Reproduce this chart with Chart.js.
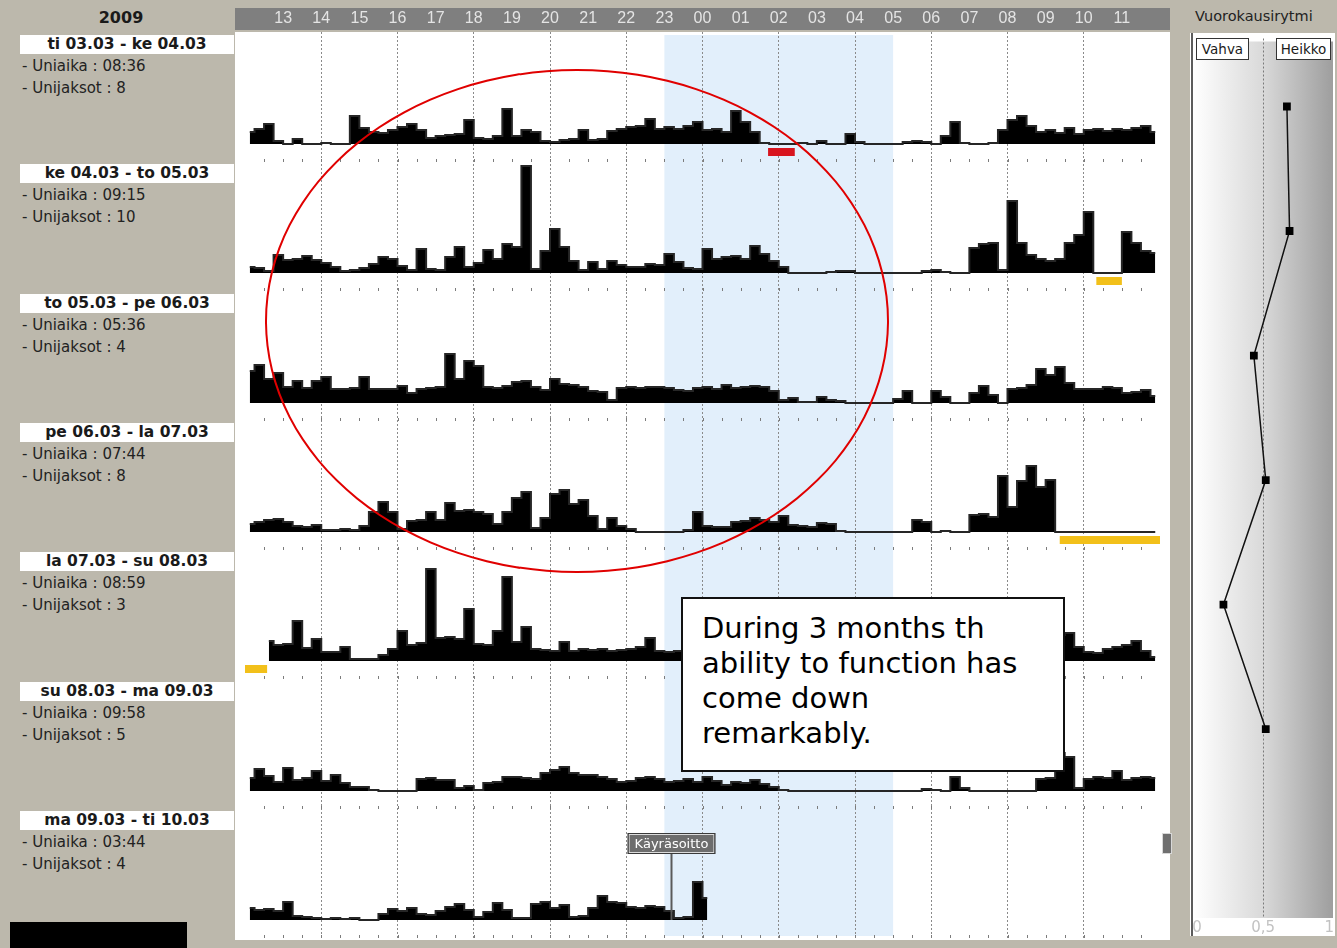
<!DOCTYPE html>
<html lang="fi">
<head>
<meta charset="utf-8">
<title>Aktiivisuus 2009</title>
<script src="https://cdn.jsdelivr.net/npm/chart.js@4.4.1/dist/chart.umd.min.js"></script>
<style>
  html, body { margin: 0; padding: 0; }
  body { width: 1337px; height: 948px; background: #bcb8ac; position: relative; overflow: hidden;
         font-family: "DejaVu Sans", Verdana, sans-serif; color: #1a1a1a; }
  .abs, canvas { position: absolute; }
  #year { left: 8px; top: 8px; width: 226px; text-align: center; font-weight: bold; font-size: 16px; }
  #header { left: 235px; top: 8px; width: 935px; height: 22px; background: #7f7f7f; }
  .title { left: 20px; width: 214px; height: 19px; background: #fff; text-align: center;
           font-weight: bold; font-size: 15.5px; line-height: 19px; white-space: nowrap; }
  .info { left: 22px; font-size: 15px; line-height: 20px; white-space: nowrap; color: #222; }
  #rhythmTitle { left: 1195px; top: 8px; font-size: 14.5px; color: #222; }
  .tag { top: 38px; height: 20px; background: #fff; border: 1px solid #333; font-size: 13.5px;
         line-height: 20px; text-align: center; }
</style>
</head>
<body>
<div id="year" class="abs">2009</div>
<div id="header" class="abs"></div>
<div id="rhythmTitle" class="abs">Vuorokausirytmi</div>
<script>
// vuorokaudet
const rowTitles = ['ti 03.03 - ke 04.03', 'ke 04.03 - to 05.03', 'to 05.03 - pe 06.03', 'pe 06.03 - la 07.03',
                   'la 07.03 - su 08.03', 'su 08.03 - ma 09.03', 'ma 09.03 - ti 10.03'];
const sleepTimes = ['08:36', '09:15', '05:36', '07:44', '08:59', '09:58', '03:44'];
const sleepCounts = [8, 10, 4, 8, 3, 5, 4];
const hourLabels = ['13', '14', '15', '16', '17', '18', '19', '20', '21', '22', '23', '00',
                    '01', '02', '03', '04', '05', '06', '07', '08', '09', '10', '11'];

// aktiivisuus 15 min välein klo 12:00 -> 12:00
const act1 = [12, 15, 20, 3, 0, 5, 0, 0, 1, 0, 0, 28, 16, 12, 11, 14, 17, 20, 14, 6,
              8, 9, 10, 24, 6, 5, 8, 35, 8, 14, 12, 3, 2, 4, 5, 14, 4, 5, 13, 15,
              17, 18, 25, 15, 17, 15, 18, 22, 14, 15, 12, 33, 22, 12, 1, 0, 0, 0, 1, 0,
              3, 0, 0, 10, 2, 0, 0, 0, 0, 2, 3, 2, 0, 8, 22, 1, 0, 0, 1, 14,
              24, 28, 18, 12, 14, 11, 16, 10, 14, 15, 13, 15, 14, 16, 18, 12];
const act2 = [6, 5, 2, 18, 13, 14, 17, 13, 10, 6, 2, 3, 5, 9, 16, 14, 7, 3, 24, 4,
              3, 16, 26, 6, 10, 23, 14, 29, 26, 107, 4, 22, 44, 26, 12, 3, 11, 4, 12, 8,
              6, 6, 9, 8, 19, 11, 5, 4, 24, 14, 16, 17, 14, 27, 19, 12, 6, 0, 0, 0,
              0, 1, 2, 2, 0, 0, 0, 0, 0, 0, 0, 2, 3, 1, 0, 0, 25, 29, 30, 3,
              72, 30, 18, 14, 12, 14, 30, 38, 61, 0, 0, 0, 41, 30, 22, 20];
const act3 = [32, 38, 24, 30, 16, 22, 15, 22, 26, 14, 14, 15, 26, 14, 14, 14, 17, 10, 14, 15,
              16, 49, 24, 42, 37, 16, 15, 17, 21, 22, 16, 13, 24, 19, 18, 16, 12, 11, 3, 15,
              16, 15, 16, 16, 15, 13, 12, 15, 16, 14, 18, 15, 16, 17, 16, 12, 3, 5, 1, 1,
              6, 3, 2, 0, 0, 0, 0, 0, 4, 12, 0, 0, 12, 6, 0, 0, 10, 17, 8, 0,
              14, 15, 18, 34, 28, 36, 20, 14, 14, 14, 16, 15, 10, 11, 13, 7];
const act4 = [8, 10, 12, 13, 10, 6, 5, 7, 2, 2, 3, 2, 6, 20, 30, 20, 3, 11, 12, 20,
              12, 29, 21, 22, 20, 18, 8, 20, 34, 40, 4, 14, 38, 42, 28, 32, 16, 3, 14, 6,
              3, 0, 0, 0, 0, 0, 2, 20, 6, 5, 5, 10, 11, 14, 12, 10, 16, 7, 6, 5,
              9, 8, 1, 0, 0, 0, 0, 0, 0, 0, 12, 10, 0, 1, 0, 0, 17, 18, 15, 56,
              25, 51, 66, 45, 52, 0, 0, 0, 0, 0, 0, 0, 0, 0, 0, 0];
const act5 = [null, null, 20, 16, 17, 40, 13, 22, 9, 9, 14, 2, 2, 2, 6, 12, 30, 16, 18, 92,
              23, 24, 22, 52, 17, 16, 30, 84, 19, 34, 12, 11, 10, 19, 10, 12, 11, 12, 10, 11,
              12, 14, 23, 10, 9, 10, 9, 11, 8, 12, 10, 9, 7, 10, 8, 6, 3, 0, 0, 1,
              0, 0, 2, 0, 0, 0, 0, 1, 0, 3, 0, 6, 10, 8, 12, 14, 10, 9, 12, 15,
              11, 13, 10, 12, 14, 26, 28, 14, 9, 8, 12, 14, 16, 20, 10, 4];
const act6 = [13, 22, 15, 9, 23, 11, 13, 20, 10, 16, 8, 4, 4, 1, 0, 0, 0, 0, 12, 13,
              11, 11, 3, 5, 1, 8, 9, 14, 14, 13, 12, 18, 21, 24, 18, 16, 16, 14, 12, 9,
              10, 13, 14, 12, 9, 10, 12, 9, 14, 10, 6, 9, 8, 11, 7, 4, 1, 0, 0, 0,
              0, 0, 0, 0, 0, 0, 0, 0, 0, 0, 0, 2, 1, 0, 14, 3, 0, 0, 0, 0,
              0, 0, 0, 12, 13, 38, 34, 3, 12, 14, 13, 20, 11, 13, 14, 13];
const act7 = [12, 10, 11, 9, 18, 4, 3, 2, 1, 2, 1, 2, 0, 0, 6, 11, 9, 12, 6, 5,
              9, 13, 16, 10, 3, 8, 17, 10, 2, 2, 16, 18, 12, 15, 3, 4, 12, 24, 18, 17,
              13, 12, 14, 13, 9, 2, 3, 38, 22];

// merkinnät (tunteina, 12 = klo 12 alkupäivänä)
const markRow = [0, 1, 3, 4];
const markFrom = [25.72, 34.33, 33.37, 12.0];
const markTo = [26.42, 35.0, 36.0, 12.58];
const markKind = ['alarm', 'note', 'note', 'note'];
const nightStart = 23, nightEnd = 29;
const eventRow = 6, eventHour = 23.17, eventLabel = 'Käyräsoitto';

// vuorokausirytmi 0..1
const rhythm = [0.68, 0.70, 0.43, 0.52, 0.20, 0.52];

const rows = [act1, act2, act3, act4, act5, act6, act7];
const FIRST_BASE = 144, ROW_STEP = 129.3;
const LABEL_FONT = '"Liberation Sans", Arial, sans-serif';

function el(tag, cls, css, text) {
    const e = document.createElement(tag);
    if (cls) e.className = cls;
    Object.assign(e.style, css);
    if (text !== undefined) e.textContent = text;
    document.body.appendChild(e);
    return e;
}
function canvas(left, top, w, h) {
    const c = el('canvas', '', { left: left + 'px', top: top + 'px', width: w + 'px', height: h + 'px' });
    c.width = w; c.height = h;
    return c;
}

// vasemman reunan tekstit
rowTitles.forEach((t, r) => {
    const top = 33 + r * ROW_STEP;
    el('div', 'abs title', { top: (top + 2) + 'px' }, t);
    el('div', 'abs info', { top: (top + 23) + 'px' }, '- Uniaika : ' + sleepTimes[r]);
    el('div', 'abs info', { top: (top + 45) + 'px' }, '- Unijaksot : ' + sleepCounts[r]);
});

// tausta: valkoinen alue, yöjakso, tuntiviivat ja otsikkorivi
const nightBand = {
    id: 'nightBand',
    beforeDraw(chart) {
        const { ctx, chartArea: a, scales: { x } } = chart;
        ctx.save();
        ctx.fillStyle = '#ffffff';
        ctx.fillRect(0, a.top, chart.width, a.bottom - a.top);
        const x0 = x.getPixelForValue(nightStart), x1 = x.getPixelForValue(nightEnd);
        ctx.fillStyle = '#e2effb';
        ctx.fillRect(x0, a.top + 3, x1 - x0, a.bottom - a.top - 7);
        ctx.restore();
    }
};

new Chart(canvas(235, 8, 935, 932), {
    type: 'line',
    data: { datasets: [{ data: [] }] },
    options: {
        responsive: false, animation: false, events: [],
        layout: { padding: { left: 10, right: 10, top: 0, bottom: 0 } },
        plugins: { legend: { display: false }, tooltip: { enabled: false } },
        scales: {
            x: {
                type: 'linear', position: 'top', min: 12, max: 36,
                afterFit: s => { s.height = 24; },
                ticks: {
                    stepSize: 1, autoSkip: false, maxRotation: 0, padding: 4,
                    color: '#e4e4e4', font: { size: 16, family: LABEL_FONT },
                    callback: v => (v > 12 && v < 36) ? hourLabels[v - 13] : ''
                },
                grid: {
                    drawTicks: false, lineWidth: 1,
                    color: c => (c.tick && c.tick.value % 2 === 0 && c.tick.value > 12 && c.tick.value < 36)
                        ? '#8a8a8a' : 'rgba(0,0,0,0)'
                },
                border: { display: false, dash: [2, 2] }
            },
            y: { display: false, min: 0, max: 1 }
        }
    },
    plugins: [nightBand]
});

// rivin koristeet: puolen tunnin tikut, merkinnät, tapahtuma
const rowDecor = {
    id: 'rowDecor',
    afterDatasetsDraw(chart, args, opts) {
        const { ctx, scales: { x, y } } = chart;
        const base = y.getPixelForValue(0);
        ctx.save();
        ctx.strokeStyle = '#7c7c7c';
        ctx.lineWidth = 1;
        ctx.beginPath();
        for (let t = 12.5; t < 36; t += 0.5) {
            const px = Math.round(x.getPixelForValue(t)) + 0.5;
            ctx.moveTo(px, base + 15);
            ctx.lineTo(px, base + 18);
        }
        ctx.stroke();

        markRow.forEach((r, m) => {
            if (r !== opts.row) return;
            const x0 = x.getPixelForValue(markFrom[m]), x1 = x.getPixelForValue(markTo[m]);
            ctx.fillStyle = markKind[m] === 'alarm' ? '#d8141e' : '#f2c01a';
            ctx.fillRect(x0, base + 4, x1 - x0, 8);
        });

        if (opts.row === eventRow) {
            const ex = Math.round(x.getPixelForValue(eventHour)) + 0.5;
            ctx.font = '13px "DejaVu Sans", sans-serif';
            const w = ctx.measureText(eventLabel).width + 14;
            const top = base - 87, h = 21;
            ctx.strokeStyle = '#5a5a5a';
            ctx.lineWidth = 2;
            ctx.beginPath();
            ctx.moveTo(ex, top + h);
            ctx.lineTo(ex, base);
            ctx.stroke();
            ctx.fillStyle = '#6d6d6d';
            ctx.fillRect(ex - w / 2, top, w, h);
            ctx.strokeStyle = '#dcdcdc';
            ctx.lineWidth = 1;
            ctx.strokeRect(ex - w / 2 + 1.5, top + 1.5, w - 3, h - 3);
            ctx.strokeStyle = '#3a3a3a';
            ctx.strokeRect(ex - w / 2 + 0.5, top + 0.5, w - 1, h - 1);
            ctx.fillStyle = '#ffffff';
            ctx.textAlign = 'center';
            ctx.textBaseline = 'middle';
            ctx.fillText(eventLabel, ex, top + h / 2 + 1);
        }
        ctx.restore();
    }
};

rows.forEach((vals, r) => {
    const base = FIRST_BASE + r * ROW_STEP;
    new Chart(canvas(235, base - 112, 935, 132), {
        type: 'line',
        data: {
            datasets: [{
                data: vals.map((v, i) => ({ x: 12 + (i + 0.5) / 4, y: v })),
                borderColor: '#262626', borderWidth: 2, backgroundColor: '#000000',
                fill: 'origin', pointRadius: 0, tension: 0, stepped: 'middle'
            }]
        },
        options: {
            responsive: false, animation: false, events: [],
            layout: { padding: { left: 10, right: 10, top: 0, bottom: 0 } },
            plugins: { legend: { display: false }, tooltip: { enabled: false }, rowDecor: { row: r } },
            scales: {
                x: { type: 'linear', display: false, min: 12, max: 36 },
                y: { display: false, min: -20, max: 112 }
            }
        },
        plugins: [rowDecor]
    });
});

// vuorokausirytmi-paneeli
const rhythmPanel = {
    id: 'rhythmPanel',
    beforeDraw(chart) {
        const { ctx, chartArea: a } = chart;
        ctx.save();
        ctx.fillStyle = '#ffffff';
        ctx.fillRect(0, 0, chart.width, chart.height - 4);
        const g = ctx.createLinearGradient(a.left - 4, 0, chart.width - 2, 0);
        g.addColorStop(0, '#ffffff');
        g.addColorStop(0.5, '#d9d9d9');
        g.addColorStop(1, '#9e9e9e');
        ctx.fillStyle = g;
        ctx.fillRect(a.left - 4, a.top + 3, chart.width - 2 - (a.left - 4), a.bottom - a.top - 3);
        ctx.fillStyle = '#5c5c5c';
        ctx.fillRect(1, 0, 2, chart.height - 4);
        ctx.restore();
    }
};

new Chart(canvas(1190, 33, 145, 907), {
    type: 'line',
    data: {
        datasets: [{
            data: rhythm.map((v, i) => ({ x: v, y: i + 1 })),
            borderColor: '#111111', borderWidth: 1.5, tension: 0,
            pointStyle: 'rect', pointRadius: 5.5, pointBackgroundColor: '#000000', pointBorderWidth: 0
        }]
    },
    options: {
        responsive: false, animation: false, events: [],
        layout: { padding: { left: 7, right: 5, top: 5, bottom: 0 } },
        plugins: { legend: { display: false }, tooltip: { enabled: false } },
        scales: {
            x: {
                type: 'linear', position: 'bottom', min: 0, max: 1,
                afterFit: s => { s.height = 22; },
                ticks: {
                    stepSize: 0.5, padding: 1, maxRotation: 0, color: '#c2c2c2',
                    font: { size: 15, family: '"DejaVu Sans", sans-serif' },
                    callback: v => v === 0 ? '0' : v === 0.5 ? '0,5' : v === 1 ? '1' : ''
                },
                grid: {
                    drawTicks: false,
                    color: c => (c.tick && c.tick.value === 0.5) ? '#7a7a7a' : 'rgba(0,0,0,0)'
                },
                border: { display: false, dash: [2, 2] }
            },
            y: { type: 'linear', display: false, reverse: true, min: 0.454, max: 7.517 }
        }
    },
    plugins: [rhythmPanel]
});

el('div', 'abs tag', { left: '1196px', width: '51px' }, 'Vahva');
el('div', 'abs tag', { left: '1276px', width: '53px' }, 'Heikko');
el('div', 'abs', { left: '1162px', top: '833px', width: '8px', height: '19px', background: '#6f6f6f',
                   border: '1px solid #d8d8d8' });
el('div', 'abs', { left: '10px', top: '922px', width: '177px', height: '26px', background: '#000' });
el('div', 'abs', { left: '265px', top: '69px', width: '624px', height: '504px', boxSizing: 'border-box',
                   border: '2px solid #e00000', borderRadius: '50%' });
const note = el('div', 'abs', { left: '681px', top: '597px', width: '384px', height: '175px', boxSizing: 'border-box',
                   background: '#fff', border: '2px solid #111', padding: '12px 0 0 19px', fontSize: '29px',
                   lineHeight: '35px', color: '#000' });
note.innerHTML = 'During 3 months th<br>ability to function has<br>come down<br>remarkably.';
</script>
</body>
</html>
